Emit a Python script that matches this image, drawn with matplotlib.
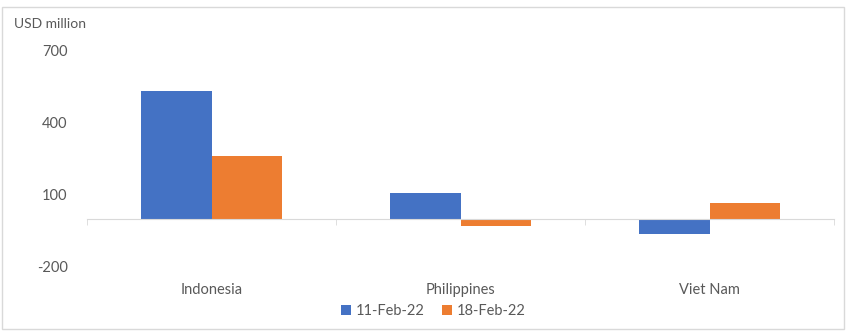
import numpy as np
import matplotlib.pyplot as plt
from matplotlib.patches import Rectangle

# data
countries = ["Indonesia", "Philippines", "Viet Nam"]
feb11 = [533, 110, -64]
feb18 = [262, -29, 67]
series_names = ["11-Feb-22", "18-Feb-22"]
yticks = [-200, 100, 400, 700]

blue = "#4472C4"
orange = "#ED7D31"
txt = "#595959"

plt.rcParams["font.family"] = ["Lato", "DejaVu Sans"]
plt.rcParams["axes.unicode_minus"] = False

fig = plt.figure(figsize=(8.46, 3.31), dpi=100)
ax = fig.add_axes([87/846, 1 - 267/331, (834 - 87)/846, (267 - 51)/331])

x = np.arange(len(countries))
w = 0.285
ax.bar(x - w/2, feb11, w, color=blue, label=series_names[0])
ax.bar(x + w/2, feb18, w, color=orange, label=series_names[1])

ax.set_xlim(-0.5, len(countries) - 0.5)
ax.set_ylim(-200, 700)
ax.set_yticks(yticks)
ax.tick_params(axis="y", length=0, pad=14, labelsize=10.5, labelcolor=txt)

for s in ["top", "right", "left"]:
    ax.spines[s].set_visible(False)
ax.spines["bottom"].set_position(("data", 0))
ax.spines["bottom"].set_color("#D9D9D9")
ax.set_zorder(1)

ax.set_xticks(x)
ax.set_xticklabels(countries)
ax.set_xticks(np.arange(len(countries) + 1) - 0.5, minor=True)
ax.tick_params(axis="x", which="major", length=0, pad=46, labelsize=10.5, labelcolor=txt)
ax.tick_params(axis="x", which="minor", length=4, color="#D9D9D9")

fig.text(14/846, 1 - 24/331, "USD million", fontsize=10, color=txt, va="center", ha="left")

fig.legend(loc="center", bbox_to_anchor=(433/846, 1 - 311/331), ncol=2, frameon=False,
           fontsize=10.5, labelcolor=txt, handlelength=0.7, handleheight=0.7,
           handletextpad=0.3, columnspacing=1.2)

fig.patches.append(Rectangle((2/846, 2/331), 842/846, 322/331, transform=fig.transFigure,
                             fill=False, edgecolor="#D9D9D9", linewidth=1))

fig.savefig("out.png", dpi=100)
